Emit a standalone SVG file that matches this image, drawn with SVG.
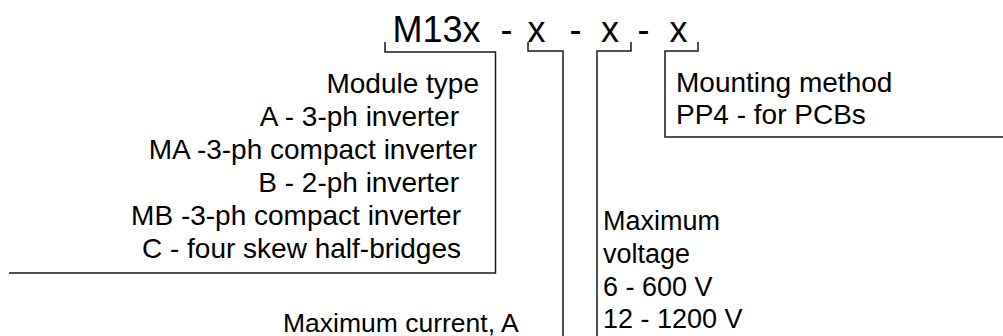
<svg xmlns="http://www.w3.org/2000/svg" width="1003" height="336" viewBox="0 0 1003 336">
<style>
  .t { font-family: "Liberation Sans", Arial, sans-serif; font-size: 28px; fill: #000; }
  .s { font-size: 26.5px; }
  .v { font-size: 27px; }
  .big { font-family: "Liberation Sans", Arial, sans-serif; font-size: 36px; fill: #000; }
  .ln { fill: none; stroke: #1a1a1a; stroke-width: 1.5; }
</style>
<rect width="1003" height="336" fill="#ffffff"/>
<g id="code">
  <text class="big" x="392.5" y="42">M13x</text>
  <text class="big" x="500.5" y="42">-</text>
  <text class="big" x="527.5" y="42">x</text>
  <text class="big" x="569.5" y="42">-</text>
  <text class="big" x="601" y="42">x</text>
  <text class="big" x="637.5" y="42">-</text>
  <text class="big" x="669.5" y="42">x</text>
</g>
<g id="connectors">
  <path class="ln" d="M385 42 V52 H495.5 V273 H9"/>
  <path class="ln" d="M528 42 V51 H563 V336"/>
  <path class="ln" d="M631 42 V51 H597 V336"/>
  <path class="ln" d="M698 42 V51 H665 V137 H1003"/>
</g>
<g id="module-type">
  <text class="t" x="479" y="93" text-anchor="end">Module type</text>
  <text class="t" x="459" y="126" text-anchor="end">A - 3-ph inverter</text>
  <text class="t" x="477" y="159" text-anchor="end">MA -3-ph compact inverter</text>
  <text class="t" x="459" y="192" text-anchor="end">B - 2-ph inverter</text>
  <text class="t" x="461" y="225" text-anchor="end">MB -3-ph compact inverter</text>
  <text class="t" x="461" y="258" text-anchor="end">C - four skew half-bridges</text>
</g>
<g id="max-current">
  <text class="t s" x="283" y="332">Maximum current, A</text>
</g>
<g id="max-voltage">
  <text class="t v" x="603" y="230">Maximum</text>
  <text class="t v" x="603" y="263">voltage</text>
  <text class="t v" x="603" y="296">6 - 600 V</text>
  <text class="t v" x="603" y="328">12 - 1200 V</text>
</g>
<g id="mounting">
  <text class="t" x="676" y="92">Mounting method</text>
  <text class="t" x="676" y="124">PP4 - for PCBs</text>
</g>
</svg>
